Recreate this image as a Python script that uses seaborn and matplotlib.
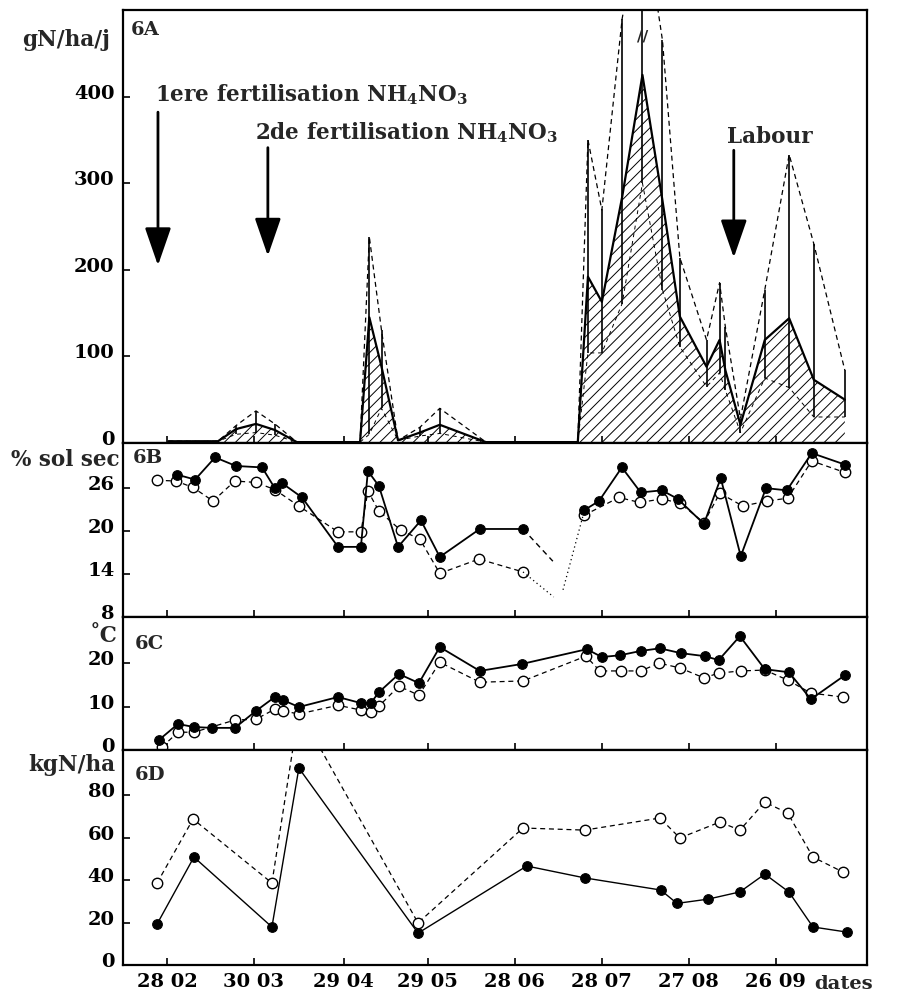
import seaborn as sns
import matplotlib.pyplot as plt
import matplotlib.transforms as mtransforms

# dates en jour de l'annee
ticks_jour = [59, 89, 120, 149, 179, 209, 239, 269]
ticks_labels = ['28 02', '30 03', '29 04', '29 05', '28 06', '28 07', '27 08', '26 09']

# 6A : flux gN/ha/j (moyenne = trait plein, max = tirets, min)
a_jour = [59.5, 76.6, 82.8, 89.7, 96.2, 103.8, 125.6, 128.8, 133.0, 138.7, 146.2, 153.1,
          169.0, 200.7, 204.2, 209.0, 216.0, 223.0, 229.9, 235.9, 245.1, 249.6, 251.6,
          256.8, 265.2, 273.6, 282.1, 292.8]
a_moy = [2, 2, 16, 22, 15, 1, 1, 145, 88, 3, 12, 21,
         1, 1, 192, 163, 284, 425, 280, 146, 88, 119, 84,
         21, 119, 144, 73, 50]
a_max = [2, 2, 20, 37, 22, 1, 1, 238, 130, 3, 18, 40,
         1, 1, 350, 269, 490, 620, 465, 214, 119, 185, 134,
         28, 177, 333, 230, 84]
a_min = [2, 2, 10, 12, 9, 1, 1, 10, 40, 3, 8, 11,
         1, 1, 104, 104, 161, 300, 177, 111, 65, 81, 61,
         12, 75, 64, 30, 30]

# 6B : % sol sec (plein = trait plein, ouvert = tirets)
b_jour_p1 = [62.4, 68.7, 75.6, 82.8, 91.8, 96.2, 98.7, 105.6, 118.0, 125.9, 128.3, 132.1,
             138.7, 146.6, 153.1, 166.9, 181.8]
b_plein_p1 = [27.9, 27.2, 30.3, 29.1, 28.9, 26.0, 26.7, 24.7, 17.8, 17.8, 28.4, 26.3,
              17.8, 21.5, 16.4, 20.3, 20.3]
b_jour_o1 = [55.6, 62.1, 68.0, 74.9, 82.4, 89.7, 96.2, 104.5, 118.0, 125.9, 128.3, 132.1,
             139.7, 146.2, 153.1, 166.6, 181.8]
b_ouvert_o1 = [27.1, 27.0, 26.1, 24.2, 27.0, 26.8, 25.8, 23.5, 19.9, 19.9, 25.6, 22.8,
               20.1, 18.9, 14.1, 16.1, 14.3]
b_jour_p2 = [202.8, 208.0, 215.9, 222.4, 229.7, 235.2, 244.2, 250.0, 256.9, 265.6, 272.8,
             281.4, 292.8]
b_plein_p2 = [22.9, 24.2, 28.9, 25.4, 25.7, 24.5, 21.0, 27.4, 16.5, 26.0, 25.7, 30.9, 29.3]
b_jour_o2 = [202.8, 214.9, 222.1, 229.7, 235.9, 244.2, 249.7, 257.6, 265.9, 273.1, 281.4,
             292.8]
b_ouvert_o2 = [22.2, 24.7, 24.0, 24.5, 23.9, 21.2, 25.3, 23.5, 24.2, 24.6, 29.8, 28.2]
# raccords sans mesure
b_raccord_plein = ([181.8, 192.1], [20.3, 15.8])
b_raccord_ouvert = ([181.8, 192.4], [14.3, 10.8])
b_raccord_reprise = ([195.6, 202.8], [11.8, 22.6])

# 6C : temperature
c_jour_p = [56.2, 62.8, 68.3, 74.5, 82.4, 89.7, 96.2, 99.0, 104.5, 118.0, 125.9, 129.3,
            132.1, 139.0, 145.9, 153.1, 166.9, 181.4, 203.8, 209.0, 215.2, 222.4, 229.0,
            236.2, 244.5, 249.3, 256.6, 265.2, 273.5, 281.1, 292.8]
c_plein = [2.3, 6.0, 5.3, 5.1, 5.1, 9.0, 12.2, 11.5, 9.9, 12.2, 10.8, 10.8,
           13.3, 17.5, 15.4, 23.7, 18.2, 19.8, 23.2, 21.4, 21.8, 22.8, 23.4,
           22.3, 21.6, 20.7, 26.2, 18.6, 17.9, 11.7, 17.2]
c_jour_o = [57.3, 62.8, 68.3, 82.4, 89.7, 96.2, 99.0, 104.5, 118.0, 125.9, 129.3, 132.1,
            139.0, 145.9, 153.1, 166.9, 181.8, 203.5, 208.3, 215.6, 222.4, 228.7, 235.9,
            244.2, 249.3, 256.9, 265.2, 273.1, 281.1, 292.1]
c_ouvert = [0.7, 4.1, 4.1, 6.9, 7.1, 9.4, 9.0, 8.3, 10.3, 9.2, 8.7, 10.1,
            14.7, 12.6, 20.2, 15.6, 15.9, 21.6, 18.2, 18.2, 18.2, 20.0, 18.9,
            16.6, 17.7, 18.2, 18.4, 16.1, 13.1, 12.2]

# 6D : azote mineral kgN/ha
d_jour_p = [55.6, 68.3, 95.2, 104.5, 145.6, 183.1, 203.1, 229.3, 234.9, 245.6, 256.6,
            265.2, 273.5, 281.8, 293.5]
d_plein = [19.3, 50.8, 17.9, 92.7, 15.0, 46.6, 41.0, 35.3, 29.0, 31.0, 34.4,
           42.8, 34.4, 17.9, 15.5]
d_jour_o = [55.6, 68.0, 95.2, 104.5, 145.6, 181.8, 203.1, 229.0, 235.9, 249.7, 256.6,
            265.2, 273.1, 281.8, 292.1]
d_ouvert = [38.6, 68.7, 38.6, 120.0, 19.8, 64.5, 63.5, 69.2, 59.8, 67.3, 63.5,
            76.7, 71.5, 50.8, 43.8]

sns.set_style('ticks')
plt.rcParams['font.family'] = ['DejaVu Serif']
plt.rcParams['font.weight'] = 'bold'
plt.rcParams['mathtext.fontset'] = 'dejavuserif'
plt.rcParams['mathtext.default'] = 'bf'
plt.rcParams['hatch.linewidth'] = 0.7
plt.rcParams['axes.edgecolor'] = 'black'

FS = 14      # graduations
FT = 15.5    # textes
fig = plt.figure(figsize=(8.97, 9.97), dpi=100)
L, W = 0.137, 0.8294
axA = fig.add_axes([L, 0.5557, W, 0.4343])
axB = fig.add_axes([L, 0.3811, W, 0.1745])
axC = fig.add_axes([L, 0.2477, W, 0.1334])
axD = fig.add_axes([L, 0.0321, W, 0.2156])

plein = dict(color='black', marker='o', markersize=7, markerfacecolor='black',
             markeredgecolor='black', linewidth=1.3, estimator=None, sort=False)
ouvert = dict(color='black', marker='o', markersize=7.5, markerfacecolor='white',
              markeredgecolor='black', markeredgewidth=1, linewidth=0.9,
              linestyle=(0, (4, 3)), estimator=None, sort=False)

# ---- 6A
axA.fill_between(a_jour, 0, a_moy, facecolor='none', edgecolor='black', hatch='///', linewidth=0)
barres = [(j, lo, hi) for j, lo, hi in zip(a_jour, a_min, a_max) if hi - lo > 3]
axA.vlines([b[0] for b in barres], [b[1] for b in barres], [b[2] for b in barres],
           color='black', linewidth=1.2)
sns.lineplot(x=a_jour, y=a_max, ax=axA, color='black', linewidth=0.9,
             linestyle=(0, (4, 3)), estimator=None, sort=False)
sns.lineplot(x=a_jour, y=a_min, ax=axA, color='black', linewidth=0.7,
             linestyle=(0, (4, 4)), estimator=None, sort=False)
sns.lineplot(x=a_jour, y=a_moy, ax=axA, color='black', linewidth=1.6, estimator=None, sort=False)
axA.set_ylim(0, 500)
axA.set_yticks([0, 100, 200, 300, 400])
axA.text(223.0, 469, '//', ha='center', va='center', fontsize=11)

fleche = dict(arrowstyle='-|>,head_length=1.3,head_width=0.45', color='black', lw=2,
              mutation_scale=18, shrinkA=0, shrinkB=0)
axA.annotate('', xy=(55.9, 205), xytext=(55.9, 382), arrowprops=fleche)
axA.annotate('', xy=(93.8, 216), xytext=(93.8, 341), arrowprops=fleche)
axA.annotate('', xy=(254.5, 214), xytext=(254.5, 338), arrowprops=fleche)
axA.text(54.9, 402, '1ere fertilisation NH$_4$NO$_3$', fontsize=FT, va='center')
axA.text(89.3, 358, '2de fertilisation NH$_4$NO$_3$', fontsize=FT, va='center')
axA.text(252.1, 353, 'Labour', fontsize=FT, va='center')

# ---- 6B
sns.lineplot(x=b_jour_o1, y=b_ouvert_o1, ax=axB, **ouvert)
sns.lineplot(x=b_jour_o2, y=b_ouvert_o2, ax=axB, **ouvert)
sns.lineplot(x=b_jour_p1, y=b_plein_p1, ax=axB, **plein)
sns.lineplot(x=b_jour_p2, y=b_plein_p2, ax=axB, **plein)
axB.plot(*b_raccord_plein, color='black', linewidth=1, linestyle=(0, (4, 3)))
axB.plot(*b_raccord_ouvert, color='black', linewidth=0.9, linestyle=(0, (1, 2.5)))
axB.plot(*b_raccord_reprise, color='black', linewidth=0.9, linestyle=(0, (1, 2.5)))
axB.set_ylim(8, 32.3)
axB.set_yticks([8, 14, 20, 26])

# ---- 6C
sns.lineplot(x=c_jour_o, y=c_ouvert, ax=axC, **ouvert)
sns.lineplot(x=c_jour_p, y=c_plein, ax=axC, **plein)
axC.set_ylim(0, 30.6)
axC.set_yticks([0, 10, 20])

# ---- 6D
sns.lineplot(x=d_jour_o, y=d_ouvert, ax=axD, **ouvert)
sns.lineplot(x=d_jour_p, y=d_plein, ax=axD, **{**plein, 'linewidth': 1.0})
axD.set_ylim(0, 101.2)
axD.set_yticks([0, 20, 40, 60, 80])

decale = mtransforms.ScaledTranslation(0, 5 / 100, fig.dpi_scale_trans)
for ax in (axA, axB, axC, axD):
    ax.set_xlim(43.8, 300.4)
    ax.set_xticks(ticks_jour)
    ax.set_xlabel('')
    ax.set_ylabel('')
    ax.tick_params(direction='in', length=5, width=1.2, labelsize=FS, pad=6, colors='black')
    ax.tick_params(axis='x', labelbottom=(ax is axD), pad=6)
    for sp in ax.spines.values():
        sp.set_visible(True)
        sp.set_linewidth(1.6)
        sp.set_color('black')
    for lab in ax.get_yticklabels():
        lab.set_transform(lab.get_transform() + decale)
        lab.set_fontweight('bold')
axD.set_xticklabels(ticks_labels, fontweight='bold')

# libelles
axA.text(-0.017, 0.93, 'gN/ha/j', transform=axA.transAxes, ha='right', va='center', fontsize=FT)
axB.text(-0.005, 0.905, '% sol sec', transform=axB.transAxes, ha='right', va='center', fontsize=FT)
axC.text(-0.007, 0.86, '˚C', transform=axC.transAxes, ha='right', va='center', fontsize=FT)
axD.text(-0.010, 0.93, 'kgN/ha', transform=axD.transAxes, ha='right', va='center', fontsize=FT)
axA.text(0.010, 0.954, '6A', transform=axA.transAxes, va='center', fontsize=FS)
axB.text(0.013, 0.913, '6B', transform=axB.transAxes, va='center', fontsize=FS)
axC.text(0.016, 0.795, '6C', transform=axC.transAxes, va='center', fontsize=FS)
axD.text(0.016, 0.884, '6D', transform=axD.transAxes, va='center', fontsize=FS)
axD.text(0.929, -0.088, 'dates', transform=axD.transAxes, va='center', fontsize=FS)

fig.savefig('out.png', dpi=100)
